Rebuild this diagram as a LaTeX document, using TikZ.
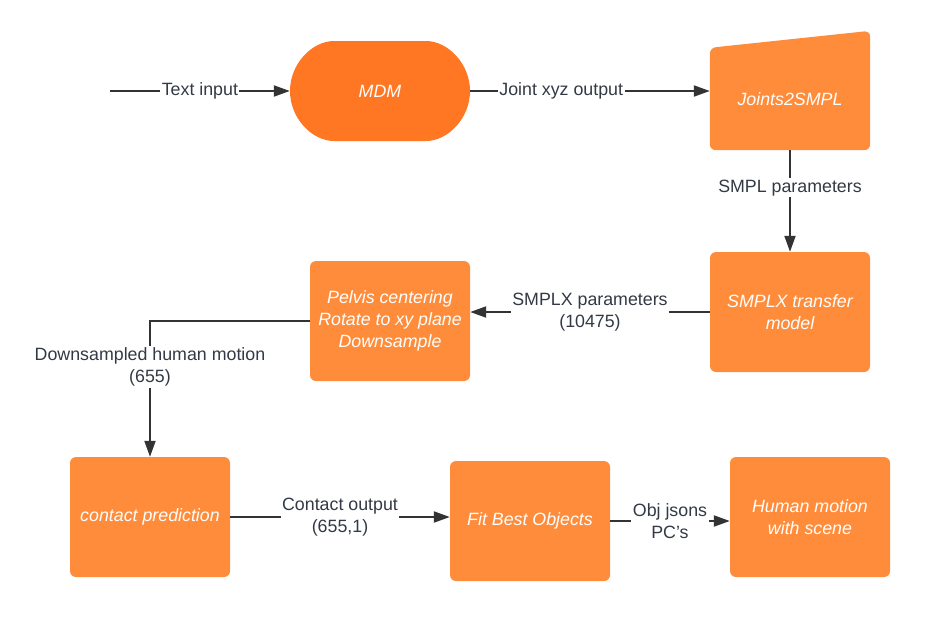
\documentclass[tikz,border=0pt]{standalone}
\usepackage{fontspec}
\setmainfont{Liberation Sans}
\usetikzlibrary{arrows.meta,shapes.misc,backgrounds}
\definecolor{boxorange}{HTML}{FF8C3A}
\definecolor{mdmorange}{HTML}{FF7722}
\definecolor{linegray}{HTML}{333333}
\definecolor{textgray}{HTML}{333A45}
\begin{document}
\begin{tikzpicture}
[x=1pt,y=-1pt,
  boxdecorate/.style={shape=rectangle,rounded corners=6pt,fill=boxorange,
    text=white,font=\fontsize{17.8pt}{22pt}\selectfont\itshape,align=center,
    minimum width=160pt,minimum height=120pt,inner sep=0pt},
  labeldecorate/.style={fill=white,text=textgray,align=center,inner sep=1.5pt,
    font=\fontsize{17.8pt}{22pt}\selectfont},
  arrowdecorate/.style={-{Triangle[length=16pt,width=11pt]},line width=2pt,draw=linegray}]
\useasboundingbox (0,0) rectangle (937,641);
%% nodes or boxes
\node (mdm) at (380,91) [boxdecorate,shape=rounded rectangle,fill=mdmorange,
  minimum width=180pt,minimum height=100pt] {MDM};
\node (j2s) at (790,99) [boxdecorate,fill=none,minimum height=102pt] {Joints2SMPL};
\begin{scope}[on background layer]
  \fill[boxorange,rounded corners=6pt] (j2s.south west) -- (j2s.north west)
    -- ([yshift=17pt]j2s.north east) -- (j2s.south east) -- cycle;
\end{scope}
\foreach \nodename/\x/\y/\boxtext in {smplx/790/312/{SMPLX transfer\\model},
  pelvis/390/321/{Pelvis centering\\Rotate to xy plane\\Downsample},
  contact/150/517/{contact prediction}, fit/530/521/{Fit Best Objects},
  human/810/517/{Human motion\\with scene}} {
  \node (\nodename) at (\x,\y) [boxdecorate] {\boxtext};
}
\coordinate (start) at (110,91);
%% edges or arrows
\draw[arrowdecorate] (start) -- node[labeldecorate] {Text input} (mdm.west);
\draw[arrowdecorate] (mdm.east) -- node[labeldecorate,pos=0.38] {Joint xyz output} (mdm.east -| j2s.west);
\draw[arrowdecorate] (j2s.south) -- node[labeldecorate,pos=0.37] {SMPL parameters} (smplx.north);
\draw[arrowdecorate] (smplx.west) -- node[labeldecorate] {SMPLX parameters\\(10475)} (smplx.west -| pelvis.east);
\draw[arrowdecorate] (pelvis.west) -| node[labeldecorate,pos=0.67] {Downsampled human motion\\(655)} (contact.north);
\draw[arrowdecorate] (contact.east) -- node[labeldecorate] {Contact output\\(655,1)} (contact.east -| fit.west);
\draw[arrowdecorate] (fit.east) -- node[labeldecorate] {Obj jsons\\PC's} (fit.east -| human.west);
\end{tikzpicture}
\end{document}
